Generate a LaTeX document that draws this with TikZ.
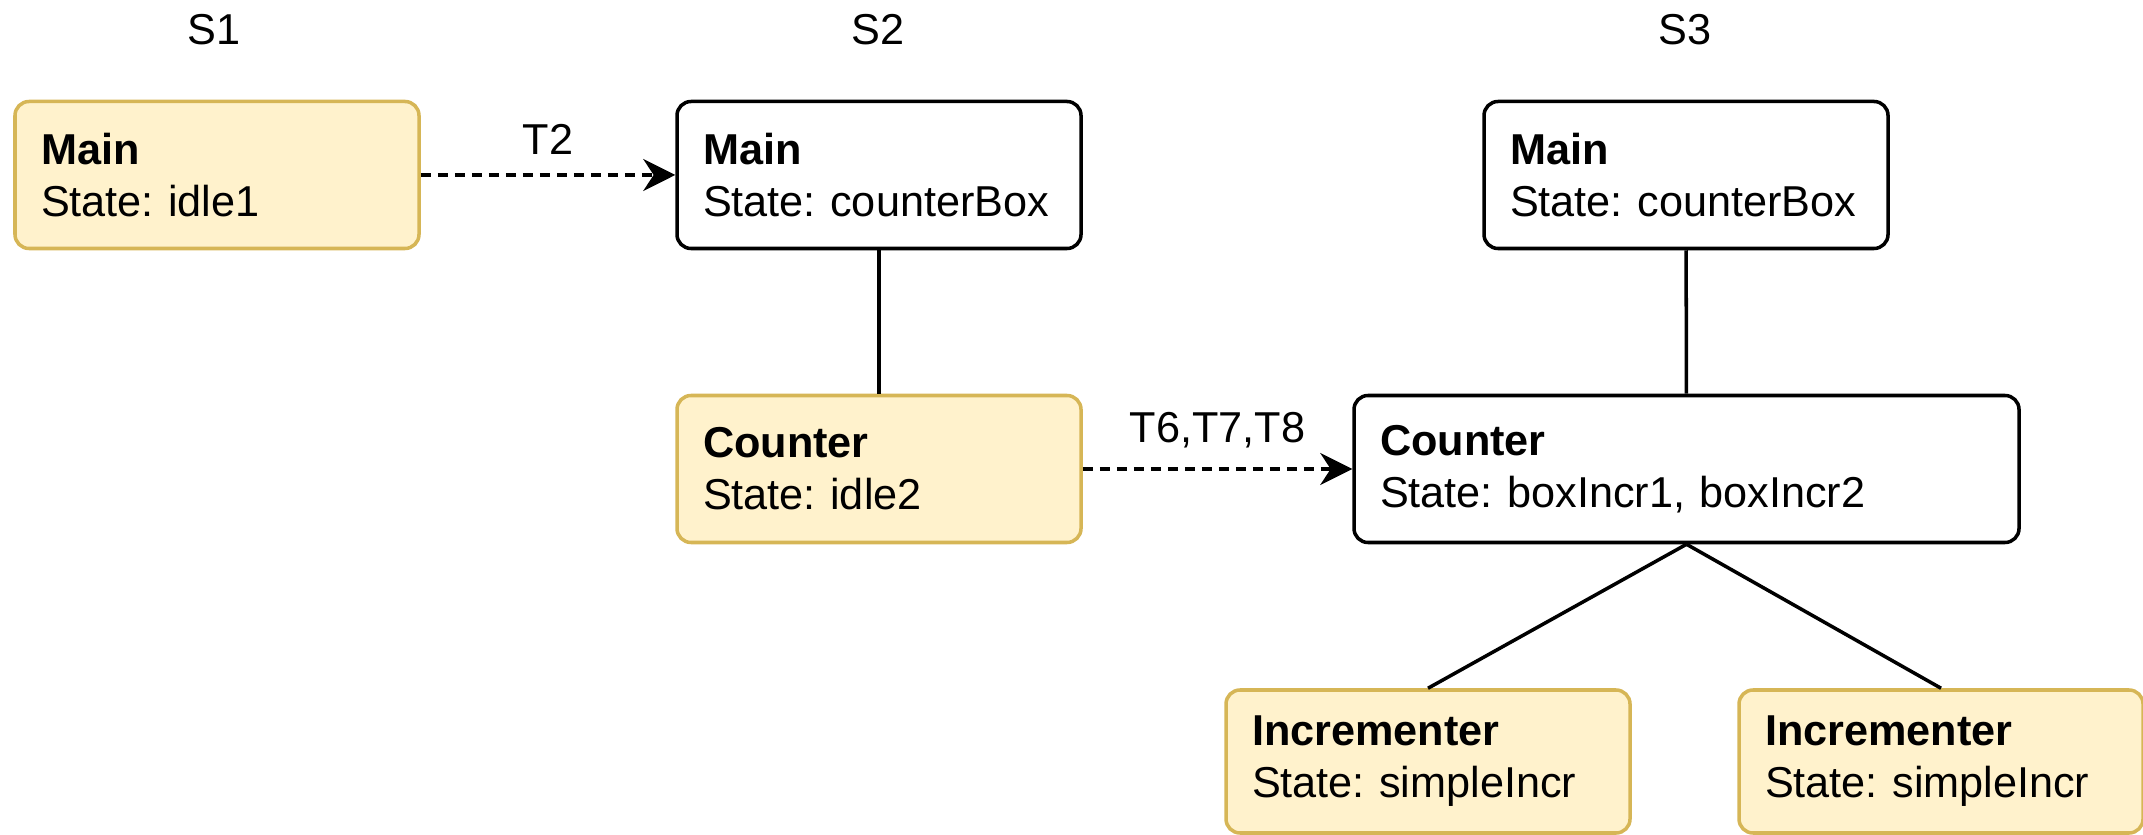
\documentclass[tikz,border=0pt]{standalone}
\usepackage{fontspec}
\setmainfont{Liberation Sans}
\usetikzlibrary{arrows.meta, positioning}
\definecolor{noteFill}{HTML}{FFF2CC}
\definecolor{noteLine}{HTML}{D6B656}
\frenchspacing
\hyphenpenalty=10000

\begin{document}
\begin{tikzpicture}[x=1cm,y=1cm,
    font=\fontsize{12.3}{14.8}\selectfont,
    comp/.style={draw=black, line width=1pt, fill=white, rounded corners=0.14cm,
      align=left, text width=3.52cm, inner xsep=0.26cm, minimum height=1.47cm},
    active/.style={comp, draw=noteLine, fill=noteFill},
    trans/.style={-{Stealth[length=0.32cm, width=0.32cm]}, line width=1pt,
      dash pattern=on 0.1cm off 0.07cm},
    link/.style={line width=1pt}]
  \useasboundingbox (0,0) rectangle (21.43,-8.35);

  % snapshot headings
  \node (hA) at (2.14,-0.30) {S1};
  \node (hB) at (8.78,-0.30) {S2};
  \node (hC) at (16.85,-0.30) {S3};

  % S1
  \node[active] (mainA) at (2.17,-1.75) {\textbf{Main}\\State: idle1};

  % S2
  \node[comp] (mainB) at (8.79,-1.75) {\textbf{Main}\\State: counterBox};
  \node[active] (ctrB) at (8.79,-4.69) {\textbf{Counter}\\State: idle2};
  \draw[link] (mainB) -- (ctrB);

  % S3
  \node[comp] (mainC) at (16.86,-1.75) {\textbf{Main}\\State: counterBox};
  \node[comp, text width=6.13cm] (ctrC) at (16.865,-4.69) {\textbf{Counter}\\State: boxIncr1, boxIncr2};
  \node[active, minimum height=1.43cm] (incA) at (14.28,-7.615) {\textbf{Incrementer}\\State: simpleIncr};
  \node[active, minimum height=1.43cm] (incB) at (19.41,-7.615) {\textbf{Incrementer}\\State: simpleIncr};
  \draw[link] (mainC) -- (ctrC);
  \draw[link] (ctrC.south) -- (incA.north);
  \draw[link] (ctrC.south) -- (incB.north);

  % transitions
  \draw[trans] (mainA) -- (mainB) node[midway, above=2pt] {T2};
  \draw[trans] (ctrB) -- (ctrC) node[midway, above=2pt] {T6,T7,T8};
\end{tikzpicture}
\end{document}
